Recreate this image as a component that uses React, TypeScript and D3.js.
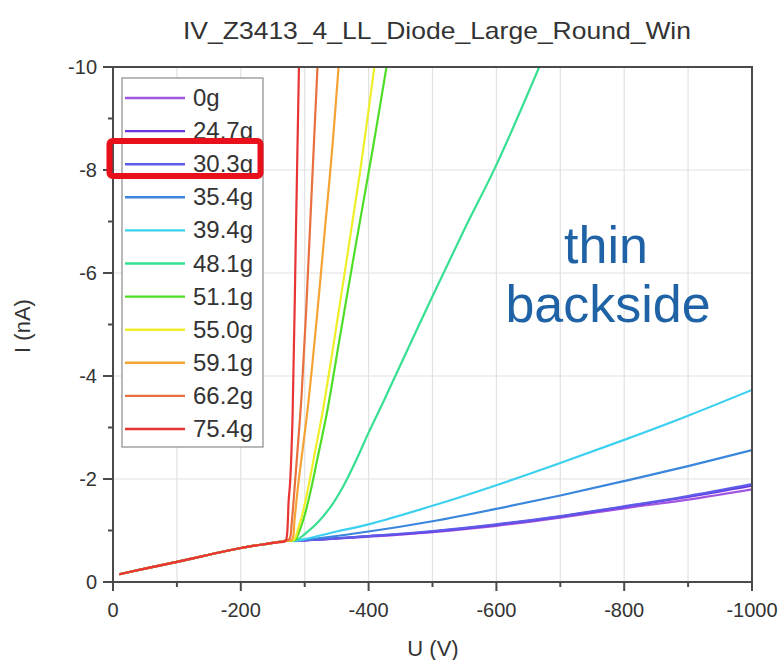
import React from "react";
import * as d3 from "d3";

// Shared low-voltage ramp that every curve follows before breakdown
const rampU = [-10, -50, -100, -150, -200, -250, -270];
const rampI = [-0.15, -0.26, -0.39, -0.53, -0.66, -0.76, -0.8];

const seriesLabels = ["0g", "24.7g", "30.3g", "35.4g", "39.4g", "48.1g", "51.1g", "55.0g", "59.1g", "66.2g", "75.4g"];

// Per-series continuation beyond the shared ramp
const tailU0 = [-300, -400, -500, -600, -700, -800, -900, -1000];
const tailI0 = [-0.81, -0.88, -0.97, -1.09, -1.25, -1.43, -1.6, -1.8];
const tailU247 = [-300, -400, -500, -600, -700, -800, -900, -1000];
const tailI247 = [-0.81, -0.89, -0.98, -1.11, -1.27, -1.46, -1.65, -1.87];
const tailU303 = [-300, -400, -500, -600, -700, -800, -900, -1000];
const tailI303 = [-0.81, -0.89, -0.99, -1.12, -1.28, -1.47, -1.67, -1.9];
const tailU354 = [-300, -400, -500, -600, -700, -800, -900, -1000];
const tailI354 = [-0.82, -0.98, -1.18, -1.42, -1.68, -1.96, -2.25, -2.56];
const tailU394 = [-290, -350, -400, -500, -600, -700, -800, -900, -1000];
const tailI394 = [-0.81, -0.98, -1.12, -1.48, -1.88, -2.31, -2.76, -3.23, -3.73];
const tailU481 = [-288, -300, -320, -340, -360, -380, -400, -425, -450, -500, -550, -600, -667];
const tailI481 = [-0.82, -0.93, -1.15, -1.45, -1.85, -2.35, -2.9, -3.55, -4.22, -5.55, -6.85, -8.1, -10];
const tailU511 = [-285, -292, -300, -309, -320, -335, -355, -380, -405, -428];
const tailI511 = [-0.82, -1.0, -1.3, -1.75, -2.4, -3.3, -4.75, -6.55, -8.3, -10];
const tailU550 = [-283, -290, -297, -305, -315, -328, -345, -365, -387, -409];
const tailI550 = [-0.82, -1.05, -1.35, -1.8, -2.45, -3.3, -4.6, -6.2, -8.0, -10];
const tailU591 = [-280, -284, -289, -296, -305, -318, -332, -343, -353];
const tailI591 = [-0.82, -1.2, -1.8, -2.5, -3.4, -5.0, -6.9, -8.4, -10];
const tailU662 = [-276, -280, -284, -289, -295, -302, -311, -320];
const tailI662 = [-0.83, -1.2, -1.8, -2.6, -3.6, -5.2, -7.6, -10];
const tailU754 = [-272, -275, -277, -281, -286, -291];
const tailI754 = [-0.88, -1.6, -1.9, -3.2, -6.6, -10];

const tailsU = [tailU0, tailU247, tailU303, tailU354, tailU394, tailU481, tailU511, tailU550, tailU591, tailU662, tailU754];
const tailsI = [tailI0, tailI247, tailI303, tailI354, tailI394, tailI481, tailI511, tailI550, tailI591, tailI662, tailI754];

const palette = ["#a056e0", "#6a36e2", "#5c5ce8", "#3a86dc", "#3cd0f0", "#36e092", "#4ede28", "#eeee2a", "#f5a334", "#e8703e", "#e83434"];

const xMajorTicks = [0, -200, -400, -600, -800, -1000];
const xMinorTicks = [-100, -300, -500, -700, -900];
const yMajorTicks = [0, -2, -4, -6, -8, -10];
const yMinorTicks = [-1, -3, -5, -7, -9];

const titleText = "IV_Z3413_4_LL_Diode_Large_Round_Win";

export default function App() {
  const W = 779;
  const H = 660;
  const left = 113, right = 752, top = 67, bottom = 582;
  const x = d3.scaleLinear().domain([0, -1000]).range([left, right]);
  const y = d3.scaleLinear().domain([0, -10]).range([bottom, top]);

  const line = d3
    .line<[number, number]>()
    .x((d) => x(d[0]))
    .y((d) => y(d[1]))
    .curve(d3.curveCatmullRom.alpha(0.5));

  const series = seriesLabels.map((label, i) => {
    const pts: [number, number][] = rampU.map((u, k) => [u, rampI[k]] as [number, number]);
    tailsU[i].forEach((u, k) => pts.push([u, tailsI[i][k]]));
    return { label, color: palette[i], pts };
  });

  const font = "'Liberation Sans', Arial, sans-serif";
  const axisColor = "#4a4a4a";
  const gridColor = "#e2e2e2";

  const legX = 122, legY = 78, legW = 141, legH = 369;
  const rowH = 33.1;

  return (
    <svg
      width={W}
      height={H}
      style={{ position: "absolute", left: 0, top: 0, background: "#fff" }}
      fontFamily={font}
    >
      <rect x={0} y={0} width={W} height={H} fill="#fff" />
      <defs>
        <clipPath id="plotClip">
          <rect x={left} y={top} width={right - left} height={bottom - top} />
        </clipPath>
      </defs>

      {/* title */}
      <text x={437} y={39} fontSize={24} fill="#333" textAnchor="middle" textLength={508} lengthAdjust="spacingAndGlyphs">
        {titleText}
      </text>

      {/* grid */}
      {[...xMajorTicks, ...xMinorTicks].map((t) => (
        <line key={"gx" + t} x1={x(t)} x2={x(t)} y1={top} y2={bottom} stroke={gridColor} strokeWidth={1.2} />
      ))}
      {yMajorTicks.map((t) => (
        <line key={"gy" + t} x1={left} x2={right} y1={y(t)} y2={y(t)} stroke={gridColor} strokeWidth={1.2} />
      ))}

      {/* curves */}
      <g clipPath="url(#plotClip)">
        {series.map((s) => (
          <path key={s.label} d={line(s.pts) || ""} fill="none" stroke={s.color} strokeWidth={2.2} strokeLinejoin="round" />
        ))}
      </g>

      {/* frame */}
      <rect x={left} y={top} width={right - left} height={bottom - top} fill="none" stroke={axisColor} strokeWidth={2} />

      {/* x axis ticks and labels */}
      {xMajorTicks.map((t) => (
        <g key={"xt" + t}>
          <line x1={x(t)} x2={x(t)} y1={bottom} y2={bottom + 9} stroke={axisColor} strokeWidth={2} />
          <text x={x(t)} y={617} fontSize={20} fill="#333" textAnchor="middle">
            {t === 0 ? "0" : String(t)}
          </text>
        </g>
      ))}
      {xMinorTicks.map((t) => (
        <line key={"xm" + t} x1={x(t)} x2={x(t)} y1={bottom} y2={bottom + 5} stroke={axisColor} strokeWidth={2} />
      ))}

      {/* y axis ticks and labels */}
      {yMajorTicks.map((t) => (
        <g key={"yt" + t}>
          <line x1={left - 10} x2={left} y1={y(t)} y2={y(t)} stroke={axisColor} strokeWidth={2} />
          <text x={97} y={y(t) + 7} fontSize={20} fill="#333" textAnchor="end">
            {t === 0 ? "0" : String(t)}
          </text>
        </g>
      ))}
      {yMinorTicks.map((t) => (
        <line key={"ym" + t} x1={left - 5} x2={left} y1={y(t)} y2={y(t)} stroke={axisColor} strokeWidth={2} />
      ))}

      {/* axis titles */}
      <text x={433} y={656} fontSize={22} fill="#333" textAnchor="middle">
        U (V)
      </text>
      <text transform="translate(30,326) rotate(-90)" fontSize={22} fill="#333" textAnchor="middle">
        I (nA)
      </text>

      {/* legend */}
      <rect x={legX} y={legY} width={legW} height={legH} fill="#fff" stroke="#8a8a8a" strokeWidth={1.2} />
      {series.map((s, i) => {
        const cy = legY + 20 + i * rowH;
        return (
          <g key={"lg" + s.label}>
            <line x1={125} x2={185} y1={cy} y2={cy} stroke={s.color} strokeWidth={2.4} />
            <text x={193} y={cy + 8} fontSize={24} fill="#333">
              {s.label}
            </text>
          </g>
        );
      })}

      {/* highlight box */}
      <rect x={109.5} y={141} width={151} height={35} rx={3} fill="none" stroke="#e8101a" strokeWidth={6} />

      {/* annotation */}
      <text x={606} y={263} fontSize={52} fill="#1f63a6" textAnchor="middle">
        thin
      </text>
      <text x={608} y={322} fontSize={52} fill="#1f63a6" textAnchor="middle">
        backside
      </text>
    </svg>
  );
}
